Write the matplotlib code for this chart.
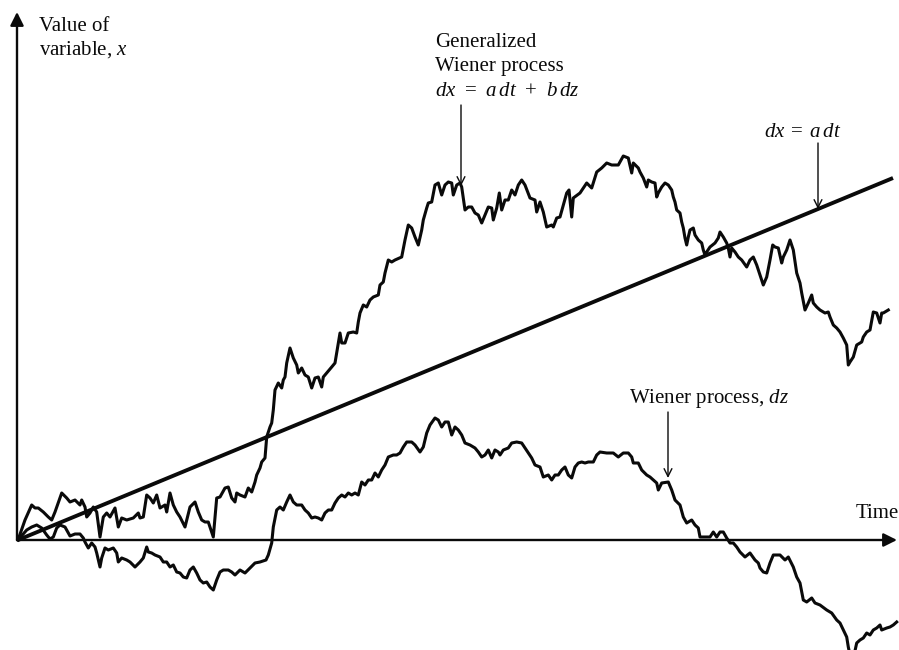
import matplotlib
matplotlib.use("Agg")
import matplotlib.pyplot as plt

plt.rcParams["font.family"] = ["Liberation Serif", "DejaVu Serif"]
plt.rcParams["mathtext.fontset"] = "custom"
plt.rcParams["mathtext.rm"] = "Liberation Serif"
plt.rcParams["mathtext.it"] = "Liberation Serif:italic"

# Deterministic drift: dx = a dt
drift_t = [0, 875]
drift_x = [0, 362]

# Generalized Wiener process: dx = a dt + b dz
gen_t = [0, 7, 13.7, 17, 20.3, 25.3, 30.3, 33.7, 37, 43.7, 48.7, 52, 57, 62, 63.7, 67, 68.7, 72, 75.3, 78.7,
         82, 85.3, 88.7, 92, 97, 100.3, 103.7, 108.7, 115.3, 120.3, 122, 125.3, 128.7, 132, 135.3, 138.7, 142,
         147, 148.7, 152, 155.3, 158.7, 162, 167, 172, 177, 180.3, 183.7, 187, 190.3, 195.3, 198.7, 202, 207,
         210.3, 213.7, 217, 218.7, 222, 227, 230.3, 233.7, 237, 238.7, 242, 243.7, 247, 248.7, 252, 253.7,
         255.3, 257, 260.3, 263.7, 265.3, 267, 268.7, 272, 275.3, 278.7, 280.3, 283.7, 287, 290.3, 293.7, 297,
         300.3, 303.7, 305.3, 308.7, 313.7, 317, 318.7, 320.3, 322, 323.7, 327, 330.3, 335.3, 338.7, 340.3,
         342, 345.3, 348.7, 352, 355.3, 360.3, 362, 365.3, 367, 370.3, 373.7, 377, 383.7, 387, 390.3, 393.7,
         397, 400.3, 403.7, 405.3, 408.7, 410.3, 413.7, 417, 420.3, 423.7, 427, 430.3, 433.7, 435.3, 438.7,
         442, 443.7, 447, 450.3, 453.7, 457, 460.3, 463.7, 467, 470.3, 473.7, 475.3, 478.7, 481.3, 483.7, 487,
         490.3, 493.7, 497, 500.3, 503.7, 507, 512, 517, 518.7, 522, 525.3, 528.7, 533.7, 535.3, 538.7, 542,
         545.3, 548.7, 551, 553.7, 555.3, 562, 568.7, 573.7, 578.7, 583.7, 588.7, 593.7, 600.3, 605.3, 610.3,
         613.7, 615.3, 620.3, 622, 625.3, 628.7, 630.3, 633.7, 637, 638.7, 640.3, 643.7, 647, 650.3, 653.7,
         655.3, 657, 658.7, 662, 663.7, 665.3, 667, 668.7, 670.3, 672, 675.3, 677, 680.3, 683.7, 685.3, 687,
         688.7, 692, 697, 700.3, 702, 705.3, 708.7, 710.3, 712, 713.7, 717, 720.3, 723.7, 728.7, 732, 735.3,
         738.7, 742, 745.3, 748.7, 752, 754.7, 757, 760.3, 763.7, 765.3, 768.7, 772, 773.7, 775.3, 778.7, 782,
         783.7, 787, 790.3, 793.7, 795.3, 798.7, 802, 807, 810.3, 812, 815.3, 818.7, 822, 825.3, 828.7, 830.3,
         832, 835.3, 838.7, 843.7, 845.3, 848.7, 852, 855.3, 858.7, 862, 863.7, 865.3, 870.3]
gen_x = [0, 20, 35, 32, 32, 28, 23, 20, 28, 47, 42, 38, 40, 35, 40, 33, 23, 27, 33, 28,
         3, 23, 27, 23, 32, 13, 22, 20, 22, 27, 22, 23, 45, 42, 37, 45, 32,
         35, 28, 47, 35, 28, 23, 13, 33, 38, 28, 20, 18, 18, 3, 42, 43, 52,
         53, 42, 38, 47, 45, 43, 52, 48, 58, 65, 72, 78, 82, 103, 113, 117,
         130, 150, 157, 152, 160, 163, 177, 192, 182, 175, 167, 172, 165, 163, 152, 162,
         163, 153, 163, 167, 173, 177, 187, 197, 207, 197, 197, 207, 208, 207, 218,
         227, 235, 233, 240, 243, 245, 255, 258, 267, 280, 278, 280, 283, 300, 315, 312,
         303, 295, 310, 320, 332, 337, 338, 355, 357, 345, 355, 358, 357, 345, 355,
         357, 353, 330, 333, 333, 327, 325, 317, 325, 333, 332, 320, 332, 347, 330, 340,
         340, 350, 345, 355, 360, 355, 342, 340, 328, 338, 328, 313, 315, 313, 322, 323,
         335, 347, 350, 323, 342, 347, 357, 352, 368, 372, 377, 375, 375, 384, 382,
         367, 377, 372, 368, 362, 353, 360, 358, 357, 343, 347, 353, 357, 355, 350,
         343, 338, 330, 327, 318, 312, 302, 295, 303, 310, 312, 305, 300, 297, 290, 285,
         288, 293, 297, 302, 308, 303, 297, 292, 283, 292, 288, 283, 280, 273, 280, 283,
         275, 265, 255, 263, 280, 295, 293, 292, 277, 283, 290, 300, 295, 290, 267, 257,
         247, 230, 237, 245, 237, 233, 230, 227, 228, 223, 215, 212, 208, 202, 195, 175,
         178, 183, 195, 198, 203, 208, 210, 228, 227, 217, 227, 227, 230]

# Wiener process: dz
wiener_t = [0, 8.7, 13.7, 18.7, 23.7, 28.7, 32, 35.3, 38.7, 42, 47, 50.3, 52, 57, 62, 65.3, 67, 70.3, 73.7,
            77, 78.7, 80.3, 82, 83.7, 87, 90.3, 95.3, 98.7, 100.3, 103.7, 108.7, 112, 117, 122, 125.3, 128.7,
            130.3, 133.7, 137, 142, 145.3, 148.7, 152, 155.3, 158.7, 162, 165.3, 168.7, 172, 175.3, 178.7,
            182, 185.3, 188.7, 192, 195.3, 198.7, 202, 205.3, 210.3, 213.7, 217, 222, 227, 232, 237, 242,
            248, 250.3, 253.7, 255.3, 258.7, 262, 265.3, 268.7, 272, 275.3, 278.7, 283.7, 287, 290.3, 293.7,
            297, 300.3, 303.7, 307, 310.3, 313.7, 317, 320.3, 323.7, 327, 330.3, 333.7, 337, 340.3, 343.7,
            347, 350.3, 353.7, 357, 360.3, 363.7, 367, 370.3, 375.3, 378.7, 382, 385.3, 388.7, 393.7, 397,
            402, 405.3, 408.7, 412, 417, 420.3, 423.7, 427, 430.3, 433.7, 437, 440.3, 443.7, 447, 452, 457,
            460.3, 463.7, 467, 470.3, 473.7, 477, 480.3, 482, 485.3, 490.3, 493.7, 498.7, 503.7, 507, 510.3,
            513.7, 517, 522, 525.3, 530.3, 533.7, 537, 540.3, 543.7, 547, 550.3, 553.7, 557, 560.3, 563.7,
            567, 570.3, 575.3, 578.7, 582, 588.7, 595.3, 600.3, 605.3, 610.3, 613.7, 615.3, 620.3, 623.7,
            628.7, 632, 635.3, 638.7, 640.3, 643.7, 650.3, 653.7, 657, 662, 665.3, 668.7, 673.7, 677, 680.3,
            682, 687, 692, 695.3, 698.7, 702, 705.3, 708.7, 712, 715.3, 718.7, 722, 727, 732, 737, 740.3, 742,
            745.3, 748.7, 752, 755.3, 762, 767, 770.3, 775.3, 778.7, 782, 785.3, 788.7, 793.7, 797, 802,
            808.7, 813.7, 818.7, 822, 825.3, 828.7, 830.3, 832, 835, 838.7, 842, 845.3, 848.7, 852, 855.3,
            858.7, 862, 863.7, 868.7, 872, 875.3, 878.7]
wiener_z = [0, 10, 13, 15, 12, 5, 1, 3, 12, 15, 13, 7, 4, 6, 6, 2, -2, -8, -3,
            -7, -13, -20, -27, -18, -8, -10, -8, -13, -22, -18, -20, -22, -27, -22, -18, -7,
            -12, -13, -15, -17, -22, -22, -27, -25, -32, -33, -37, -38, -30, -27, -33,
            -40, -43, -42, -47, -50, -40, -32, -30, -30, -32, -35, -30, -33, -28, -23, -22,
            -20, -15, -3, 13, 30, 33, 30, 38, 45, 38, 35, 35, 30, 27, 22,
            23, 22, 20, 27, 30, 30, 37, 42, 45, 43, 47, 45, 47, 45, 58,
            55, 60, 60, 67, 63, 70, 75, 83, 85, 85, 87, 93, 98, 98, 95,
            88, 93, 107, 115, 122, 120, 113, 118, 118, 105, 113, 110, 105, 97, 95, 92,
            88, 83, 85, 90, 82, 90, 88, 85, 90, 92, 97, 98, 97, 92, 87,
            82, 75, 73, 63, 65, 60, 65, 65, 70, 73, 65, 62, 73, 77, 78,
            77, 78, 78, 85, 88, 87, 87, 83, 87, 87, 83, 77, 77, 70,
            65, 63, 60, 57, 50, 57, 58, 50, 40, 35, 23, 17, 20, 15, 12,
            3, 3, 3, 8, 3, 8, 8, 2, -3, -3, -7, -12, -17, -13, -20, -23, -28,
            -32, -33, -23, -15, -15, -20, -17, -27, -37, -43, -60, -62, -58, -63, -65,
            -70, -73, -80, -83, -90, -97, -107, -115, -120, -103, -100, -98, -93, -95, -90,
            -88, -85, -90, -88, -87, -85, -82]

fig = plt.figure(figsize=(8.99, 6.5), dpi=100)
ax = fig.add_axes([0, 0, 1, 1])
ax.set_xlim(-18, 881)
ax.set_ylim(-110, 540)
ax.axis("off")

ink = "#0a0a0a"

# Axes with arrowheads
ax.annotate("", xy=(879, 0), xytext=(-1, 0),
            arrowprops=dict(arrowstyle="-|>", lw=1.7, color=ink, mutation_scale=20,
                            shrinkA=0, shrinkB=0))
ax.annotate("", xy=(-1, 528), xytext=(-1, 0),
            arrowprops=dict(arrowstyle="-|>", lw=1.7, color=ink, mutation_scale=20,
                            shrinkA=0, shrinkB=0))

# Paths
ax.plot(drift_t, drift_x, color=ink, lw=2.8, solid_capstyle="butt")
ax.plot(gen_t, gen_x, color=ink, lw=2.2, solid_joinstyle="round")
ax.plot(wiener_t, wiener_z, color=ink, lw=2.2, solid_joinstyle="round")

fs = 15
txt = dict(fontsize=fs, ha="left", va="baseline", color=ink)
ax.text(21, 509, "Value of", **txt)
ax.text(21, 485, "variable, $x$", **txt)
ax.text(417, 493, "Generalized", **txt)
ax.text(417, 469, "Wiener process", **txt)
ax.text(417, 444, "$dx\\;\\,=\\;\\,a\\,dt\\;\\,+\\;\\,b\\,dz$", **txt)
ax.text(746, 403, "$dx\\;=\\;a\\,dt$", **txt)
ax.text(611, 137, "Wiener process, $dz$", **txt)
ax.text(838, 22, "Time", **txt)

# Pointer arrows
ptr = dict(arrowstyle="->", lw=1.0, color=ink, mutation_scale=14, shrinkA=0, shrinkB=0)
ax.annotate("", xy=(443, 354), xytext=(443, 435), arrowprops=ptr)
ax.annotate("", xy=(800, 331), xytext=(800, 397), arrowprops=ptr)
ax.annotate("", xy=(650, 62), xytext=(650, 128), arrowprops=ptr)

fig.savefig("out.png", dpi=100, facecolor="white")
